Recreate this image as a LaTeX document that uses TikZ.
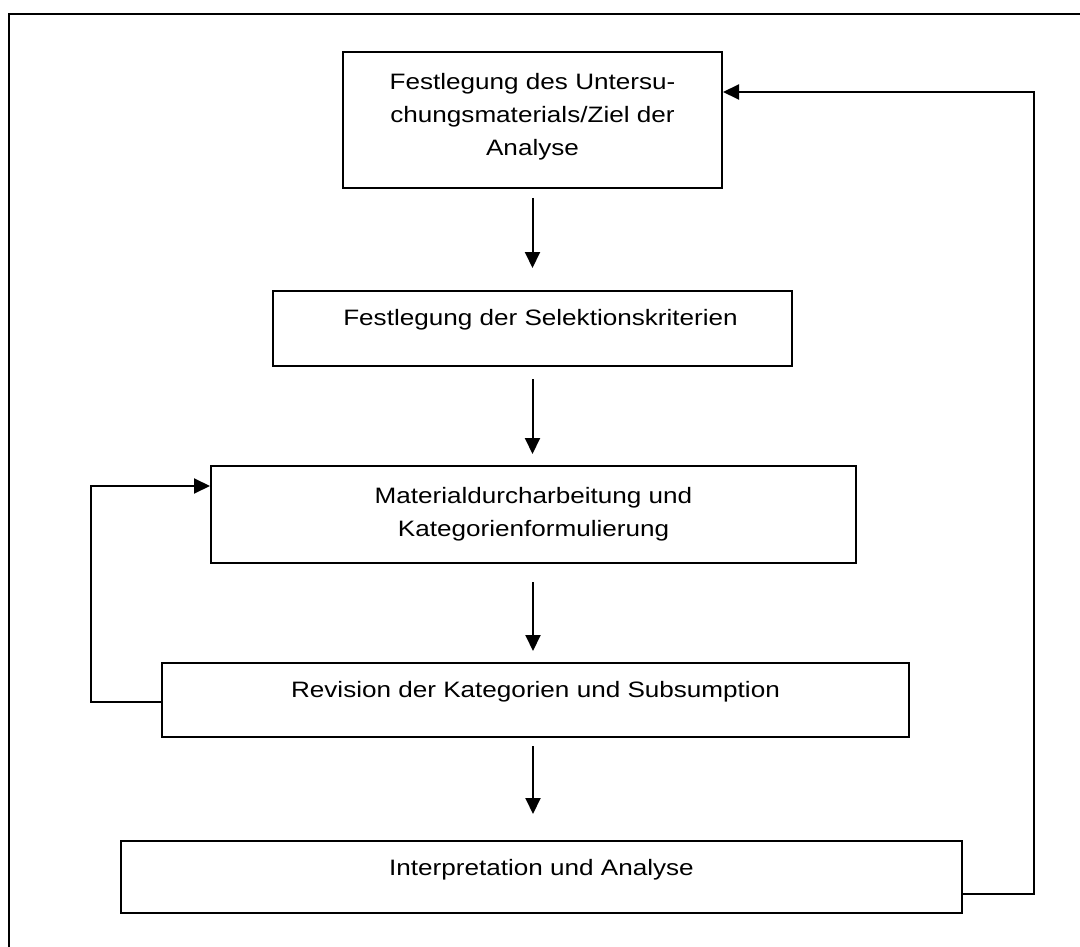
\documentclass[tikz,border=0pt]{standalone}
\usepackage{fontspec}
\setmainfont{Liberation Sans}[FakeStretch=1.17]
\usetikzlibrary{arrows.meta,calc}
\begin{document}
\begin{tikzpicture}[x=1pt,y=-1pt,
  box/.style={draw,line width=2pt,rectangle,inner sep=0pt},
  txt/.style={font=\fontsize{22.3}{33}\selectfont,align=center,anchor=north,inner sep=0pt},
  arr/.style={line width=2pt,-{Triangle[length=16pt,width=15pt]}},
  ln/.style={line width=2pt}]
\useasboundingbox (0,0) rectangle (1080,947);
\draw[ln] (9,947) -- (9,14) -- (1080,14);
% boxes
\node[box,minimum width=379pt,minimum height=136pt] (b1) at (532.5,120) {};
\node[box,minimum width=519pt,minimum height=75pt] (b2) at (532.5,328.5) {};
\node[box,minimum width=645pt,minimum height=97pt] (b3) at (533.5,514.5) {};
\node[box,minimum width=747pt,minimum height=74pt] (b4) at (535.5,700) {};
\node[box,minimum width=841pt,minimum height=72pt] (b5) at (541.5,877) {};
% texts
\node[txt] (t1) at ([yshift=-22pt]b1.north) {Festlegung des Untersu-\\chungsmaterials/Ziel der\\Analyse};
\node[txt] (t2) at ([xshift=8pt,yshift=-19pt]b2.north) {Festlegung der Selektionskriterien};
\node[txt] (t3) at ([yshift=-22pt]b3.north) {Materialdurcharbeitung und\\Kategorienformulierung};
\node[txt] (t4) at ([yshift=-19pt]b4.north) {Revision der Kategorien und Subsumption};
\node[txt] (t5) at ([yshift=-19pt]b5.north) {Interpretation und Analyse};
% main arrows
\draw[arr] ([yshift=-9pt]b1.south) -- ([yshift=22pt]b2.north);
\draw[arr] ([yshift=-12pt]b2.south) -- ([yshift=11pt]b2.south |- b3.north);
\draw[arr] ([xshift=-0.5pt,yshift=-18pt]b3.south) -- ([xshift=-0.5pt,yshift=11pt]b3.south |- b4.north);
\draw[arr] ([xshift=-2.5pt,yshift=-8pt]b4.south) -- ([xshift=-2.5pt,yshift=26pt]b4.south |- b5.north);
% feedback loops
\coordinate (lx) at (91,0);
\coordinate (rx) at (1034,0);
\draw[arr] ([yshift=-2pt]b4.west) -- ([yshift=-2pt]b4.west -| lx) |- ([yshift=28.5pt]b3.west);
\draw[arr] ([yshift=-17pt]b5.east) -- ([yshift=-17pt]b5.east -| rx) |- ([yshift=28pt]b1.east);
\end{tikzpicture}
\end{document}
